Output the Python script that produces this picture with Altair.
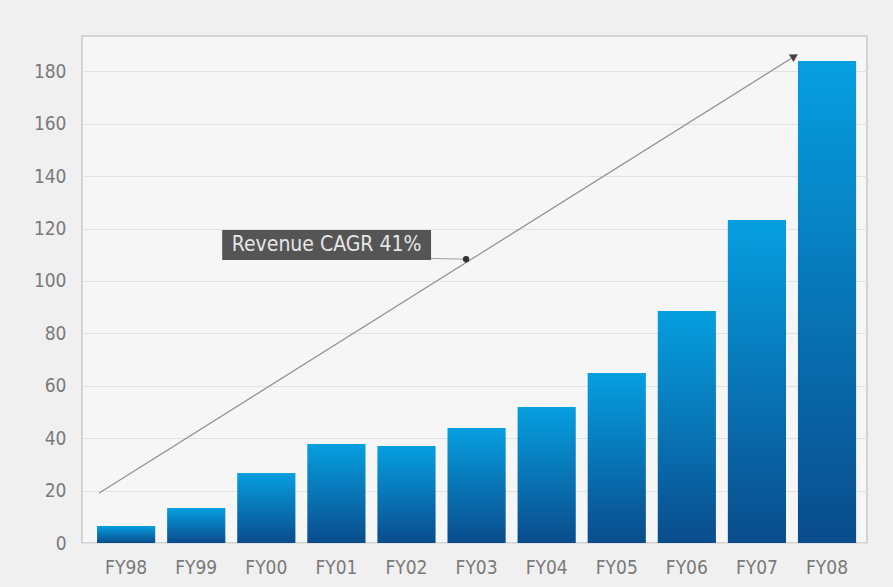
import altair as alt
import pandas as pd

years = ["FY98", "FY99", "FY00", "FY01", "FY02", "FY03", "FY04", "FY05", "FY06", "FY07", "FY08"]
revenue = [6.5, 13.4, 26.7, 37.8, 37.0, 43.9, 51.9, 64.9, 88.5, 123.3, 184.0]

# annotation (index units on the category axis, value units on y)
arrow_x = [-0.36, 9.55]
arrow_y = [19, 185.5]
dot_x = [4.88]
dot_y = [108.3]
box_x = [1.40, 4.38]
box_y = [108.0, 119.5]
label_text = ["Revenue CAGR 41%"]

PI, PO = 0.17, 0.185
off = PO + (1 - PI) / 2
n = len(years)
xlin = alt.Scale(domain=[-off, n - 1 + off], nice=False, zero=False)
yscale = alt.Scale(domain=[0, 193.5], nice=False)
FONT = "Liberation Sans Narrow, DejaVu Sans Condensed, sans-serif"

bars_df = pd.DataFrame({"year": years, "revenue": revenue})

bars = alt.Chart(bars_df).mark_bar(
    color=alt.Gradient(
        gradient="linear",
        stops=[alt.GradientStop(color="#069fe0", offset=0),
               alt.GradientStop(color="#0a4c8c", offset=1)],
        x1=0, x2=0, y1=0, y2=1,
    )
).encode(
    x=alt.X("year:N", sort=years,
            scale=alt.Scale(paddingInner=PI, paddingOuter=PO, align=0.58),
            axis=alt.Axis(title=None, labelAngle=0, labelFontSize=19, labelColor="#7a7a7a",
                          labelFont=FONT, labelPadding=15, ticks=False, domain=False, grid=False)),
    y=alt.Y("revenue:Q", scale=yscale,
            axis=alt.Axis(title=None, values=list(range(0, 181, 20)), labelFontSize=19,
                          labelColor="#7a7a7a", labelFont=FONT, labelPadding=16, ticks=False,
                          domain=False, grid=True, gridColor="#e2e2e2")),
)

arrow_df = pd.DataFrame({"x": [arrow_x[0]], "x2": [arrow_x[1]], "y": [arrow_y[0]], "y2": [arrow_y[1]]})
arrow = alt.Chart(arrow_df).mark_rule(color="#909090", strokeWidth=1.2).encode(
    x=alt.X("x:Q", scale=xlin, axis=None), x2="x2:Q",
    y=alt.Y("y:Q", scale=yscale), y2="y2:Q",
)
head_df = pd.DataFrame({"x": [arrow_x[1]], "y": [arrow_y[1]]})
head = alt.Chart(head_df).mark_point(shape="triangle", filled=True, color="#444444", size=80,
                                      angle=58, opacity=1).encode(
    x=alt.X("x:Q", scale=xlin, axis=None), y=alt.Y("y:Q", scale=yscale),
)

conn_df = pd.DataFrame({"x": [box_x[1]], "x2": [dot_x[0]], "y": [box_y[0] + 0.6], "y2": [dot_y[0]]})
conn = alt.Chart(conn_df).mark_rule(color="#a0a0a0", strokeWidth=1).encode(
    x=alt.X("x:Q", scale=xlin, axis=None), x2="x2:Q",
    y=alt.Y("y:Q", scale=yscale), y2="y2:Q",
)
dot_df = pd.DataFrame({"x": dot_x, "y": dot_y})
dot = alt.Chart(dot_df).mark_point(shape="circle", filled=True, color="#333333", size=40, opacity=1).encode(
    x=alt.X("x:Q", scale=xlin, axis=None), y=alt.Y("y:Q", scale=yscale),
)

box_df = pd.DataFrame({"x": [box_x[0]], "x2": [box_x[1]], "y": [box_y[0]], "y2": [box_y[1]],
                       "label": label_text, "xm": [(box_x[0] + box_x[1]) / 2],
                       "ym": [(box_y[0] + box_y[1]) / 2]})
box = alt.Chart(box_df).mark_rect(color="#555555").encode(
    x=alt.X("x:Q", scale=xlin, axis=None), x2="x2:Q",
    y=alt.Y("y:Q", scale=yscale), y2="y2:Q",
)
text = alt.Chart(box_df).mark_text(color="#e6e6e6", fontSize=21, font=FONT, baseline="middle",
                                   align="center").encode(
    x=alt.X("xm:Q", scale=xlin, axis=None), y=alt.Y("ym:Q", scale=yscale), text="label:N",
)

ann = alt.layer(arrow, head, conn, dot, box, text)

chart = alt.layer(bars, ann).resolve_scale(x="independent").properties(
    width=785, height=507,
    background="#f0f0f0",
    padding={"left": 82, "top": 36, "right": 26, "bottom": 44},
    autosize=alt.AutoSizeParams(type="none"),
).configure_view(fill="#f6f6f6", stroke="#c8c8c8", strokeWidth=1.5)

chart.save("out.html", embed_options={"renderer": "svg", "actions": False})
